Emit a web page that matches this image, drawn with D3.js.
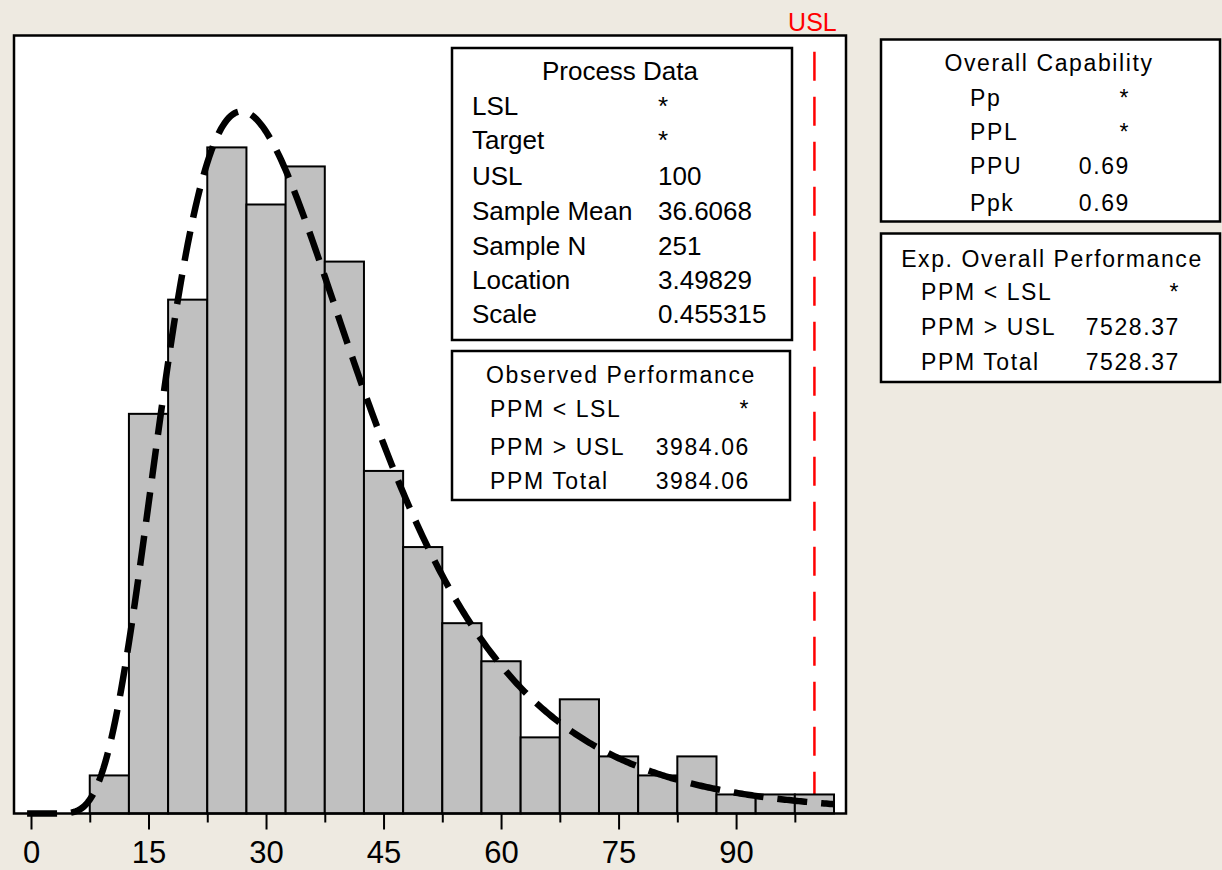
<!DOCTYPE html>
<html>
<head>
<meta charset="utf-8">
<script src="https://cdn.jsdelivr.net/npm/d3@7"></script>
<style>
  html, body { margin: 0; padding: 0; background: #EEEAE1; }
  svg { display: block; }
  text { font-family: "Liberation Sans", Arial, sans-serif; fill: #000; }
</style>
</head>
<body>
<svg id="chart" width="1222" height="870"></svg>
<script>
// Histogram bins (centres, width 5) and observed counts
const binCenters = [10, 15, 20, 25, 30, 35, 40, 45, 50, 55, 60, 65, 70, 75, 80, 85, 90, 95, 100];
const binCounts  = [2, 21, 27, 35, 32, 34, 29, 18, 14, 10, 8, 4, 6, 3, 2, 3, 1, 1, 1];
const binWidth = 5;

// Axis ticks
const majorTicks = [0, 15, 30, 45, 60, 75, 90];
const minorTicks = [7.5, 22.5, 37.5, 52.5, 67.5, 82.5, 97.5];

// Specification limit and lognormal fit parameters
const usl = 100;
const sampleN = 251;
const fitLocation = 3.49829;
const fitScale = 0.455315;
const fitRange = [-0.5, 102.5];

// Summary tables
const processLabels = ["LSL", "Target", "USL", "Sample Mean", "Sample N", "Location", "Scale"];
const processValues = ["*", "*", "100", "36.6068", "251", "3.49829", "0.455315"];
const observedLabels = ["PPM < LSL", "PPM > USL", "PPM Total"];
const observedValues = ["*", "3984.06", "3984.06"];
const capabilityLabels = ["Pp", "PPL", "PPU", "Ppk"];
const capabilityValues = ["*", "*", "0.69", "0.69"];
const expectedLabels = ["PPM < LSL", "PPM > USL", "PPM Total"];
const expectedValues = ["*", "7528.37", "7528.37"];

const svg = d3.select("#chart");

const plot = { left: 14, top: 35.5, right: 846, bottom: 813.5 };
const x = d3.scaleLinear().domain([-2.17, 104.03]).range([plot.left, plot.right]);
const y = d3.scaleLinear().domain([0, 40.88]).range([plot.bottom, plot.top]);

// Plot area
svg.append("rect")
  .attr("x", plot.left).attr("y", plot.top)
  .attr("width", plot.right - plot.left).attr("height", plot.bottom - plot.top)
  .attr("fill", "#fff");

// USL reference line (behind the bars)
svg.append("line")
  .attr("x1", x(usl)).attr("x2", x(usl))
  .attr("y1", 51.7).attr("y2", y(0))
  .attr("stroke", "#ff0000").attr("stroke-width", 2.5)
  .attr("stroke-dasharray", "29,16");

svg.append("text")
  .attr("x", x(usl) - 2).attr("y", 30.5)
  .attr("text-anchor", "middle")
  .style("font-size", "25px")
  .style("fill", "#ff0000")
  .text("USL");

// Bars
svg.append("g").selectAll("rect")
  .data(binCenters.map((c, i) => ({ c, n: binCounts[i] })))
  .join("rect")
  .attr("x", d => x(d.c - binWidth / 2))
  .attr("width", d => x(d.c + binWidth / 2) - x(d.c - binWidth / 2))
  .attr("y", d => y(d.n))
  .attr("height", d => y(0) - y(d.n))
  .attr("fill", "#c0c0c0")
  .attr("stroke", "#000")
  .attr("stroke-width", 2);

// Fitted lognormal density, scaled to counts per bin
function lognormalPdf(v) {
  if (v <= 0) return 0;
  const z = (Math.log(v) - fitLocation) / fitScale;
  return Math.exp(-0.5 * z * z) / (v * fitScale * Math.sqrt(2 * Math.PI));
}
const fitPoints = d3.range(fitRange[0], fitRange[1] + 1e-9, 0.25)
  .map(v => [v, sampleN * binWidth * lognormalPdf(v)]);

svg.append("path")
  .datum(fitPoints)
  .attr("fill", "none")
  .attr("stroke", "#000")
  .attr("stroke-width", 6.5)
  .attr("stroke-dasharray", "30,14")
  .attr("d", d3.line().x(d => x(d[0])).y(d => y(d[1])));

// Frame
svg.append("rect")
  .attr("x", plot.left).attr("y", plot.top)
  .attr("width", plot.right - plot.left).attr("height", plot.bottom - plot.top)
  .attr("fill", "none")
  .attr("stroke", "#000").attr("stroke-width", 2.5);

// X axis: major ticks with labels, minor ticks without
const axisMajor = svg.append("g")
  .attr("transform", `translate(0,${plot.bottom})`)
  .call(d3.axisBottom(x).tickValues(majorTicks).tickSize(16).tickPadding(12).tickFormat(d3.format("d")));
axisMajor.select(".domain").remove();
axisMajor.selectAll(".tick line").attr("stroke", "#000").attr("stroke-width", 2);
axisMajor.selectAll(".tick text")
  .attr("dy", null).attr("y", 49.5)
  .style("font-family", "'Liberation Sans', Arial, sans-serif")
  .style("font-size", "31px");

const axisMinor = svg.append("g")
  .attr("transform", `translate(0,${plot.bottom})`)
  .call(d3.axisBottom(x).tickValues(minorTicks).tickSize(9).tickFormat(""));
axisMinor.select(".domain").remove();
axisMinor.selectAll(".tick line").attr("stroke", "#000").attr("stroke-width", 2);

// Table boxes
function tableBox(opts) {
  const g = svg.append("g");
  g.append("rect")
    .attr("x", opts.box[0]).attr("y", opts.box[1])
    .attr("width", opts.box[2] - opts.box[0]).attr("height", opts.box[3] - opts.box[1])
    .attr("fill", "#fff").attr("stroke", "#000").attr("stroke-width", 2.5);
  const style = t => t.style("font-size", opts.size + "px").style("letter-spacing", opts.spacing + "px");
  g.append("text")
    .attr("x", opts.titleX).attr("y", opts.titleY)
    .attr("text-anchor", "middle")
    .call(style)
    .text(opts.title);
  opts.labels.forEach((lab, i) => {
    g.append("text")
      .attr("x", opts.labelX).attr("y", opts.rowY[i])
      .call(style)
      .text(lab);
    g.append("text")
      .attr("x", opts.valueX).attr("y", opts.rowY[i])
      .attr("text-anchor", opts.valueAnchor)
      .call(style)
      .text(opts.values[i]);
  });
}

tableBox({
  box: [452, 48, 792, 340], title: "Process Data", titleX: 620, titleY: 80,
  labels: processLabels, values: processValues,
  labelX: 472, valueX: 658, valueAnchor: "start",
  rowY: [114.5, 149, 185, 220, 254.5, 289, 323],
  size: 26, spacing: 0
});

tableBox({
  box: [452, 351, 790, 500], title: "Observed Performance", titleX: 621, titleY: 382.5,
  labels: observedLabels, values: observedValues,
  labelX: 490, valueX: 750, valueAnchor: "end",
  rowY: [416.5, 454.5, 488.5],
  size: 23, spacing: 1.6
});

tableBox({
  box: [881, 39.5, 1220, 221.5], title: "Overall Capability", titleX: 1049, titleY: 71,
  labels: capabilityLabels, values: capabilityValues,
  labelX: 970, valueX: 1130, valueAnchor: "end",
  rowY: [105.5, 140, 173.5, 210.5],
  size: 23, spacing: 1.6
});

tableBox({
  box: [881, 233.5, 1220, 382], title: "Exp. Overall Performance", titleX: 1052, titleY: 266.5,
  labels: expectedLabels, values: expectedValues,
  labelX: 921, valueX: 1180, valueAnchor: "end",
  rowY: [300, 335, 369.5],
  size: 23, spacing: 1.6
});
</script>
</body>
</html>
